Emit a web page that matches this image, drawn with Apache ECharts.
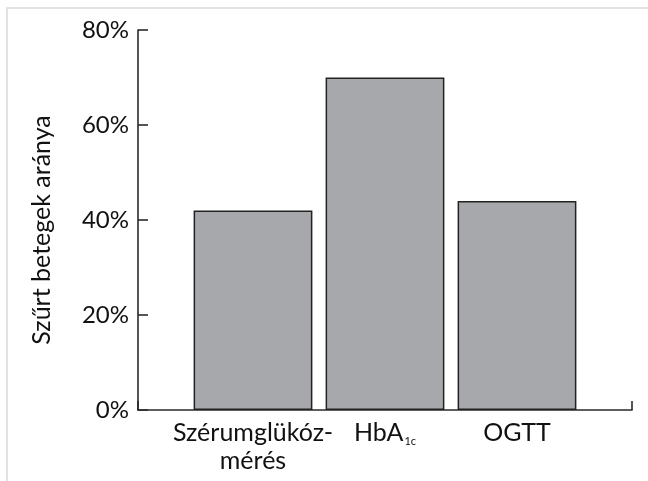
<!DOCTYPE html>
<html>
<head>
<meta charset="utf-8">
<script src="https://cdn.jsdelivr.net/npm/echarts@6/dist/echarts.min.js"></script>
<style>
html,body{margin:0;padding:0;background:#fff;}
#wrap{position:relative;width:648px;height:481px;}
#chart{position:absolute;left:0;top:0;width:648px;height:481px;}
#frame{position:absolute;left:6px;top:7px;right:0;bottom:0;border-top:2px solid #e2e2e2;border-left:2px solid #e2e2e2;pointer-events:none;}
</style>
</head>
<body>
<div id="wrap"><div id="chart"></div><div id="frame"></div></div>
<script>
const categories = ['Szérumglükóz-\nmérés', 'HbA1c', 'OGTT'];
const values = [42, 70, 44];
const yTicks = [0, 20, 40, 60, 80];
const yAxisName = 'Szűrt betegek aránya';

const FONT = 'Lato, "Open Sans", sans-serif';
const chart = echarts.init(document.getElementById('chart'), null, {renderer: 'canvas'});
chart.setOption({
  animation: false,
  grid: [
    {left: 138, right: 16, top: 30, bottom: 71},
    {left: 187, width: 396, top: 30, bottom: 71}
  ],
  xAxis: [
    {gridIndex: 0, type: 'value', min: 0, max: 1, interval: 1,
     axisLine: {show: true, lineStyle: {color: '#2a2a2a', width: 1.6}},
     axisTick: {show: true, inside: true, length: 9, lineStyle: {color: '#2a2a2a', width: 1.6}},
     axisLabel: {show: false}, splitLine: {show: false}},
    {gridIndex: 1, type: 'category', data: categories,
     axisLine: {show: false}, axisTick: {show: false}, splitLine: {show: false},
     axisLabel: {interval: 0, color: '#111', fontFamily: FONT, fontSize: 25, margin: 9, lineHeight: 28,
       formatter: v => v === 'HbA1c' ? 'HbA{sub|1c}' : v,
       rich: {sub: {fontSize: 11, lineHeight: 11, fontFamily: FONT, color: '#111', verticalAlign: 'bottom', padding: [0, 0, 0, 1]}}}}
  ],
  yAxis: [
    {gridIndex: 0, type: 'value', min: yTicks[0], max: yTicks[yTicks.length - 1], interval: 20,
     name: yAxisName, nameLocation: 'middle', nameGap: 84, nameRotate: 90,
     nameTextStyle: {color: '#111', fontFamily: FONT, fontSize: 25, padding: [0, 20, 0, 0]},
     axisLine: {show: true, lineStyle: {color: '#2a2a2a', width: 1.6}},
     axisTick: {show: true, inside: true, length: 10, lineStyle: {color: '#2a2a2a', width: 1.6}},
     axisLabel: {color: '#111', fontFamily: FONT, fontSize: 24, margin: 9, formatter: v => v + '%'},
     splitLine: {show: false}},
    {gridIndex: 1, type: 'value', min: yTicks[0], max: yTicks[yTicks.length - 1], show: false}
  ],
  series: [{
    type: 'bar', xAxisIndex: 1, yAxisIndex: 1, data: values, barCategoryGap: '10%',
    itemStyle: {color: '#a7a8ab', borderColor: '#222', borderWidth: 1.5}
  }]
});
</script>
</body>
</html>
